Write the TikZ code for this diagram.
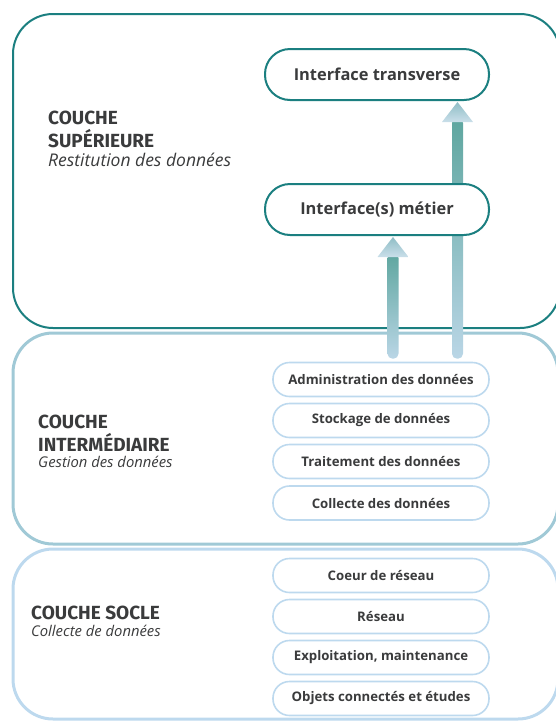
\documentclass[tikz,border=0pt]{standalone}
\usepackage{fontspec}
\setmainfont{Open Sans}
\newfontfamily\titrefont{Fira Sans}
\usetikzlibrary{positioning,calc}

\definecolor{tealfonce}{HTML}{1B7F80}
\definecolor{bleumoyen}{HTML}{A0C9D6}
\definecolor{bleuclair}{HTML}{BDD9EE}
\definecolor{texte}{HTML}{3A3B3C}
\definecolor{tigehaut}{HTML}{5EA69F}
\definecolor{tigebas}{HTML}{BAD6E6}
\definecolor{tetehaut}{HTML}{8EBDC5}
\definecolor{tetebas}{HTML}{CADFEA}

\pgfdeclarelayer{fond}
\pgfdeclarelayer{fleches}
\pgfsetlayers{fond,fleches,main}

\tikzset{
  interface/.style={draw=tealfonce, fill=white, line width=2pt, rounded corners=25pt,
    minimum width=224pt, minimum height=51pt, text=texte,
    font=\bfseries\fontsize{16.4}{19}\selectfont},
  brique/.style={draw=bleuclair, fill=white, line width=1.6pt, rounded corners=16.5pt,
    minimum width=216pt, minimum height=34pt, text=texte,
    font=\bfseries\fontsize{13.2}{16}\selectfont},
  titre/.style={inner sep=0pt, align=left, anchor=north west, text=texte,
    font=\titrefont\bfseries\fontsize{19}{22.5}\selectfont},
  soustitre/.style={inner sep=0pt, text=texte,
    font=\itshape\fontsize{14.8}{17}\selectfont},
}

\begin{document}
\begin{tikzpicture}[x=1pt, y=-1pt]
    \useasboundingbox (0,0) rectangle (556,721);

    % Couches
    \begin{pgfonlayer}{fond}
        \draw[tealfonce, line width=2pt, rounded corners=40pt] (13,14) rectangle (560,328);
        \draw[bleumoyen, line width=3pt, rounded corners=40pt] (13,333) rectangle (558,544);
        \draw[bleuclair, line width=3pt, rounded corners=40pt] (13,549) rectangle (558,719);
    \end{pgfonlayer}

    % Titres des couches
    \node[titre] (tsup) at (48,111) {COUCHE\\SUPÉRIEURE};
    \node[soustitre, font=\itshape\fontsize{17.5}{20}\selectfont,
          below=5pt of tsup.south west, anchor=north west] (ssup) {Restitution des données};
    \node[titre] (tint) at (38,415) {COUCHE\\INTERMÉDIAIRE};
    \node[soustitre, below=5pt of tint.south west, anchor=north west] (sint) {Gestion des données};
    \node[titre] (tsoc) at (31,606) {COUCHE SOCLE};
    \node[soustitre, below=5pt of tsoc.south west, anchor=north west] (ssoc) {Collecte de données};

    % Interfaces
    \node[interface] (transv) at (377,74.5) {Interface transverse};
    \node[interface] (metier) at (377,209.5) {Interface(s) métier};

    % Briques
    \foreach \nom/\y/\texte in {adm/379.5/Administration des données,
        sto/420.5/Stockage de données, tra/461.5/Traitement des données,
        col/503/Collecte des données, coe/575.5/Coeur de réseau,
        res/616.5/Réseau, exp/657.5/{Exploitation, maintenance},
        obj/698.5/Objets connectés et études} {
        \node[brique] (\nom) at (381,\y) {\texte};
    }

    % Fleches
    \begin{pgfonlayer}{fleches}
        \foreach \x/\cible in {393/metier, 457.5/transv} {
            \shade[top color=tigehaut, bottom color=tigebas, rounded corners=5pt]
                ($(\x,0 |- adm.north)+(-5.5,-3)$) rectangle ($(\x,0 |- \cible.south)+(5.5,17)$);
            \shade[top color=tetehaut, bottom color=tetebas]
                ($(\x,0 |- \cible.south)+(0,1)$) -- ++(15.5,20) -- ++(-31,0) -- cycle;
        }
    \end{pgfonlayer}
\end{tikzpicture}
\end{document}
